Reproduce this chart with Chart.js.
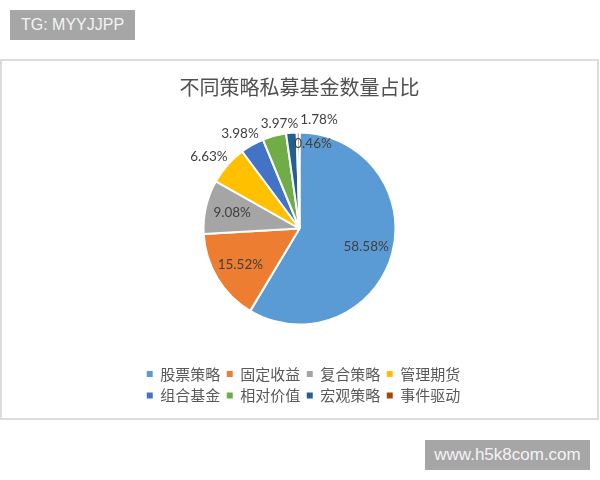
<!DOCTYPE html>
<html>
<head>
<meta charset="utf-8">
<script src="https://cdn.jsdelivr.net/npm/chart.js@4"></script>
<style>
    body { margin: 0; background: #fff; width: 600px; height: 480px; position: relative; overflow: hidden; }
    .tag { position: absolute; background: #a6a6a6; color: #f4f4f4; font-family: "Liberation Sans", Arial, sans-serif; font-size: 16px; line-height: 30px; height: 30px; text-align: center; }
    #tag-top { left: 10px; top: 10px; width: 125px; }
    #tag-bottom { left: 425px; top: 440px; width: 165px; font-size: 17px; }
    .chart-box { position: absolute; left: 0; top: 59px; width: 599px; height: 361px; box-sizing: border-box; border: 2px solid #dcdcdc; }
    .chart-box canvas { display: block; }
</style>
</head>
<body>

<div class="tag" id="tag-top">TG: MYYJJPP</div>
<div class="chart-box">
    <canvas id="pie-chart" width="595" height="357"></canvas>
</div>
<div class="tag" id="tag-bottom">www.h5k8com.com</div>

<script>
const chartTitle = "不同策略私募基金数量占比";
const categories = ["股票策略", "固定收益", "复合策略", "管理期货", "组合基金", "相对价值", "宏观策略", "事件驱动"];
const shares = [58.58, 15.52, 9.08, 6.63, 3.98, 3.97, 1.78, 0.46];
const colors = ["#5b9bd5", "#ed7d31", "#a5a5a5", "#ffc000", "#4472c4", "#70ad47", "#255e91", "#9e480e"];

// percentage labels, inside for big slices, outside for the small ones
const pieLabels = {
    id: 'pieLabels',
    afterLayout(chart) {
        // legend sits a little right of the pie centre in the original
        chart.legend.left += 4;
        chart.legend.right += 4;
    },
    afterDatasetsDraw(chart) {
        const ctx = chart.ctx;
        const meta = chart.getDatasetMeta(0);
        ctx.save();
        ctx.font = "13.5px Lato, 'Liberation Sans', sans-serif";
        ctx.fillStyle = "#404040";
        ctx.textBaseline = "middle";
        ctx.textAlign = "center";

        let prev = null;
        meta.data.forEach((arc, i) => {
            const p = arc.getProps(['x', 'y', 'startAngle', 'endAngle', 'outerRadius'], true);
            const mid = (p.startAngle + p.endAngle) / 2;
            const dx = Math.cos(mid);
            const dy = Math.sin(mid);
            const text = shares[i].toFixed(2) + "%";
            const w = ctx.measureText(text).width;
            const h = 14;
            let lx, ly;

            if (shares[i] >= 8) {
                lx = p.x + dx * p.outerRadius * 0.72;
                ly = p.y + dy * p.outerRadius * 0.72;
            } else if (shares[i] >= 1) {
                const r = p.outerRadius + 6;
                lx = p.x + dx * r + dx * w / 2;
                ly = p.y + dy * r + dy * h / 2;
                if (prev && Math.abs(prev.y - ly) < h && lx - w / 2 < prev.right + 2) {
                    lx = prev.right + 2 + w / 2;
                }
                prev = { y: ly, right: lx + w / 2 };
            } else {
                const r = p.outerRadius * 0.88;
                lx = p.x + dx * r - 4 + w / 2;
                ly = p.y + dy * r;
            }
            ctx.fillText(text, lx, ly);
        });
        ctx.restore();
    }
};

const ctx = document.getElementById("pie-chart").getContext("2d");

new Chart(ctx, {
    type: 'pie',
    data: {
        labels: categories,
        datasets: [{
            data: shares,
            backgroundColor: colors,
            borderColor: '#ffffff',
            borderWidth: 2,
            radius: 96
        }]
    },
    options: {
        responsive: false,
        animation: false,
        layout: {
            padding: { top: 0, bottom: 5, left: 117, right: 117 }
        },
        plugins: {
            title: {
                display: true,
                text: chartTitle,
                color: '#505050',
                padding: { top: 16, bottom: 0 },
                font: {
                    size: 20,
                    family: "'Noto Sans CJK SC', sans-serif",
                    weight: 'normal',
                    lineHeight: 1
                }
            },
            legend: {
                position: 'bottom',
                labels: {
                    color: '#595959',
                    boxWidth: 6,
                    boxHeight: 6,
                    padding: 6.5,
                    font: {
                        size: 15,
                        family: "'Noto Sans CJK SC', sans-serif"
                    },
                    generateLabels: (chart) => {
                        const items = Chart.overrides.pie.plugins.legend.labels.generateLabels(chart);
                        items.forEach(item => { item.lineWidth = 0; });
                        return items;
                    }
                }
            },
            tooltip: { enabled: false }
        }
    },
    plugins: [pieLabels]
});
</script>
</body>
</html>
